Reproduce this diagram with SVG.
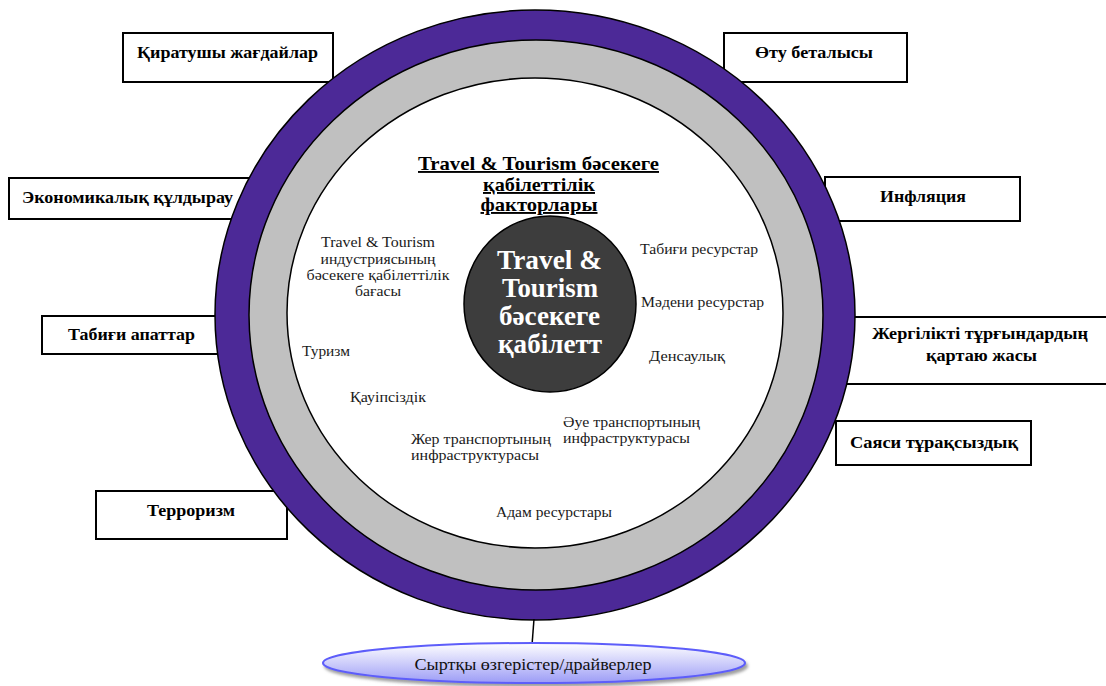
<svg xmlns="http://www.w3.org/2000/svg" width="1106" height="686" viewBox="0 0 1106 686">
<style>
.box{fill:#fff;stroke:#000;stroke-width:2}
text{font-family:"Liberation Serif","Times New Roman",serif}
.bt{font-weight:bold;font-size:17px;fill:#000}
.it{font-size:15.5px;fill:#1a1a1a}
.ti{font-weight:bold;font-size:19px;fill:#000;text-decoration:underline}
.ct{font-weight:bold;font-size:27px;fill:#fff}
.ring{stroke:#000;stroke-width:1.5}
</style>
<defs>
<linearGradient id="eg" x1="0" y1="0" x2="0" y2="1">
<stop offset="0" stop-color="#ffffff"/>
<stop offset="1" stop-color="#9c9cf6"/>
</linearGradient>
<filter id="sh" x="-10%" y="-50%" width="120%" height="200%">
<feDropShadow dx="2" dy="3" stdDeviation="1.5" flood-color="#777" flood-opacity="0.7"/>
</filter>
</defs>
<g id="box-kiratushy"><rect class="box" x="123" y="33" width="210" height="49"/><text class="bt" x="227.5" y="58" text-anchor="middle" textLength="181" lengthAdjust="spacingAndGlyphs">Қиратушы жағдайлар</text></g>
<g id="box-ekonomikalyk"><rect class="box" x="9" y="178" width="250" height="41"/><text class="bt" x="22" y="203" textLength="211" lengthAdjust="spacingAndGlyphs">Экономикалық құлдырау</text></g>
<g id="box-tabigi-apattar"><rect class="box" x="42" y="316" width="190" height="38"/><text class="bt" x="131.5" y="340" text-anchor="middle" textLength="127" lengthAdjust="spacingAndGlyphs">Табиғи апаттар</text></g>
<g id="box-terrorizm"><rect class="box" x="96" y="491" width="191" height="48"/><text class="bt" x="191" y="516" text-anchor="middle" textLength="88" lengthAdjust="spacingAndGlyphs">Терроризм</text></g>
<g id="box-otu"><rect class="box" x="724" y="33" width="183" height="49"/><text class="bt" x="814" y="58" text-anchor="middle" textLength="118" lengthAdjust="spacingAndGlyphs">Өту беталысы</text></g>
<g id="box-inflyaciya"><rect class="box" x="825" y="177" width="195" height="44"/><text class="bt" x="923" y="202" text-anchor="middle" textLength="86" lengthAdjust="spacingAndGlyphs">Инфляция</text></g>
<g id="box-zhergilikti"><rect class="box" x="840" y="317" width="275" height="67"/><text class="bt" x="980" y="339" text-anchor="middle" textLength="216" lengthAdjust="spacingAndGlyphs">Жергілікті тұрғындардың</text><text class="bt" x="981.5" y="361" text-anchor="middle" textLength="111" lengthAdjust="spacingAndGlyphs">қартаю жасы</text></g>
<g id="box-sayasi"><rect class="box" x="836" y="421" width="195" height="44"/><text class="bt" x="934" y="448" text-anchor="middle" textLength="168" lengthAdjust="spacingAndGlyphs">Саяси тұрақсыздық</text></g>
<g id="rings">
<ellipse class="ring" cx="535" cy="315" rx="320" ry="305" fill="#4c2997"/>
<ellipse class="ring" cx="536" cy="315" rx="287" ry="275" fill="#c0c0c0"/>
<ellipse class="ring" cx="535" cy="313" rx="248" ry="235" fill="#ffffff"/>
</g>
<g id="title">
<text class="ti" x="538.5" y="170" text-anchor="middle" textLength="241" lengthAdjust="spacingAndGlyphs">Travel &amp; Tourism бәсекеге</text>
<text class="ti" x="539" y="191" text-anchor="middle" textLength="112" lengthAdjust="spacingAndGlyphs">қабілеттілік</text>
<text class="ti" x="539" y="211" text-anchor="middle" textLength="117" lengthAdjust="spacingAndGlyphs">факторлары</text>
</g>
<g id="core">
<ellipse cx="550" cy="304" rx="86" ry="88" fill="#3d3d3d" stroke="#000" stroke-width="1.5"/>
<text class="ct" x="549.5" y="269" text-anchor="middle" textLength="105" lengthAdjust="spacingAndGlyphs">Travel &amp;</text>
<text class="ct" x="550" y="297" text-anchor="middle" textLength="96" lengthAdjust="spacingAndGlyphs">Tourism</text>
<text class="ct" x="549.5" y="325" text-anchor="middle" textLength="101" lengthAdjust="spacingAndGlyphs">бәсекеге</text>
<text class="ct" x="550" y="353" text-anchor="middle" textLength="104" lengthAdjust="spacingAndGlyphs">қабілетт</text>
</g>
<g id="factors">
<text class="it" x="378" y="247" text-anchor="middle" textLength="114" lengthAdjust="spacingAndGlyphs">Travel &amp; Tourism</text>
<text class="it" x="378" y="264" text-anchor="middle" textLength="115" lengthAdjust="spacingAndGlyphs">индустриясының</text>
<text class="it" x="378" y="280" text-anchor="middle" textLength="143" lengthAdjust="spacingAndGlyphs">бәсекеге қабілеттілік</text>
<text class="it" x="378" y="296" text-anchor="middle" textLength="46" lengthAdjust="spacingAndGlyphs">бағасы</text>
<text class="it" x="302" y="356" textLength="48" lengthAdjust="spacingAndGlyphs">Туризм</text>
<text class="it" x="350" y="402" textLength="76" lengthAdjust="spacingAndGlyphs">Қауіпсіздік</text>
<text class="it" x="411" y="444" textLength="140" lengthAdjust="spacingAndGlyphs">Жер транспортының</text>
<text class="it" x="411" y="460" textLength="128" lengthAdjust="spacingAndGlyphs">инфраструктурасы</text>
<text class="it" x="563" y="427" textLength="137" lengthAdjust="spacingAndGlyphs">Әуе транспортының</text>
<text class="it" x="563" y="443" textLength="127" lengthAdjust="spacingAndGlyphs">инфраструктурасы</text>
<text class="it" x="496" y="517" textLength="116" lengthAdjust="spacingAndGlyphs">Адам ресурстары</text>
<text class="it" x="640" y="254" textLength="118" lengthAdjust="spacingAndGlyphs">Табиғи ресурстар</text>
<text class="it" x="641" y="307" textLength="123" lengthAdjust="spacingAndGlyphs">Мәдени ресурстар</text>
<text class="it" x="649" y="361" textLength="76" lengthAdjust="spacingAndGlyphs">Денсаулық</text>
</g>
<g id="connectors">
<line x1="534" y1="619" x2="532" y2="645" stroke="#000" stroke-width="1.5"/>
</g>
<g id="external-drivers">
<ellipse cx="534" cy="663" rx="211" ry="20" fill="url(#eg)" stroke="#5d5dfa" stroke-width="2" filter="url(#sh)"/>
<text x="533" y="670" text-anchor="middle" font-size="17" fill="#111" textLength="237" lengthAdjust="spacingAndGlyphs">Сыртқы өзгерістер/драйверлер</text>
</g>
</svg>
